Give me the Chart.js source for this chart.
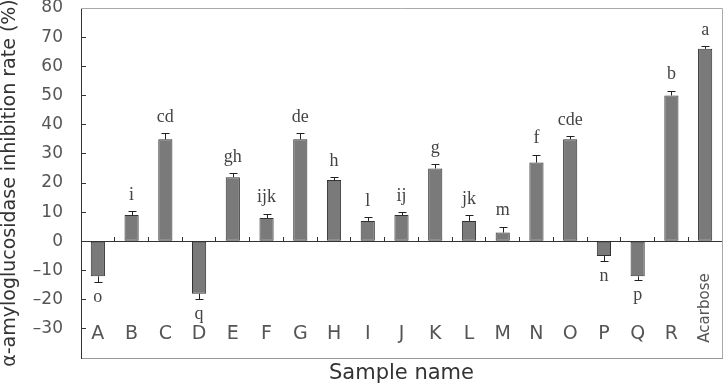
<!DOCTYPE html>
<html>
<head>
<meta charset="utf-8">
<script src="https://cdn.jsdelivr.net/npm/chart.js@4/dist/chart.umd.min.js"></script>
<style>
  html, body { margin: 0; padding: 0; background: #fff; }
  #wrap { width: 728px; height: 384px; position: relative; }
</style>
</head>
<body>
<div id="wrap"><canvas id="c"></canvas></div>
<script>
const categories = ['A','B','C','D','E','F','G','H','I','J','K','L','M','N','O','P','Q','R','Acarbose'];
const values = [-12, 9, 35, -18, 22, 8, 35, 21, 7, 9, 25, 7, 3, 27, 35, -5, -12, 50, 66];
const errors = [2, 1.3, 2, 1.7, 1.5, 1.5, 2, 1, 1.3, 1, 1.4, 2, 2, 2.7, 1, 1.7, 1.2, 1.7, 1];
const letters = ['o','i','cd','q','gh','ijk','de','h','l','ij','g','jk','m','f','cde','n','p','b','a'];
const yTicks = [-30, -20, -10, 0, 10, 20, 30, 40, 50, 60, 70, 80];

const SANS = 'DejaVu Sans';

const errorBars = {
  id: 'errorBars',
  afterDatasetsDraw(chart) {
    const ctx = chart.ctx;
    const x = chart.scales.x, y = chart.scales.y;
    ctx.save();
    ctx.strokeStyle = '#222';
    ctx.lineWidth = 1;
    values.forEach((v, i) => {
      const px = Math.round(x.getPixelForValue(i)) + 0.5;
      const end = v >= 0 ? v + errors[i] : v - errors[i];
      const p0 = y.getPixelForValue(v);
      const p1 = Math.round(y.getPixelForValue(end)) + 0.5;
      ctx.beginPath();
      ctx.moveTo(px, p0);
      ctx.lineTo(px, p1);
      ctx.moveTo(px - 4, p1);
      ctx.lineTo(px + 4, p1);
      ctx.stroke();
    });
    ctx.restore();
  }
};

const labelsPlugin = {
  id: 'sigLetters',
  afterDraw(chart) {
    const ctx = chart.ctx;
    const x = chart.scales.x, y = chart.scales.y;
    ctx.save();
    ctx.fillStyle = '#444';
    ctx.font = '18px "Liberation Serif"';
    ctx.textAlign = 'center';
    ctx.textBaseline = 'middle';
    values.forEach((v, i) => {
      const px = x.getPixelForValue(i);
      const end = v >= 0 ? v + errors[i] : v - errors[i];
      const p = y.getPixelForValue(end) + (v >= 0 ? -16 : 15);
      ctx.fillText(letters[i], px, p);
    });
    // rotated last category label
    const last = categories.length - 1;
    ctx.font = '15px "' + SANS + '"';
    ctx.fillStyle = '#555';
    ctx.translate(x.getPixelForValue(last), 308);
    ctx.rotate(-Math.PI / 2);
    ctx.fillText(categories[last], 0, 0);
    ctx.restore();
  }
};

new Chart(document.getElementById('c'), {
  type: 'bar',
  data: {
    labels: categories,
    datasets: [{
      data: values,
      backgroundColor: '#7a7a7a',
      borderColor: '#333',
      borderWidth: 1,
      borderSkipped: false,
      barPercentage: 0.42,
      categoryPercentage: 1.0,
      xAxisID: 'x',
      yAxisID: 'y'
    }]
  },
  options: {
    responsive: true,
    maintainAspectRatio: false,
    animation: false,
    events: [],
    layout: { padding: { left: 0, top: 8, right: 6, bottom: 0 } },
    plugins: { legend: { display: false }, tooltip: { enabled: false } },
    scales: {
      x: {
        type: 'category',
        position: 'bottom',
        offset: true,
        grid: { display: false, drawTicks: false },
        ticks: { display: false },
        border: { display: true, color: '#999', width: 1 },
        title: { display: true, text: 'Sample name', color: '#333', font: { family: SANS, size: 21, lineHeight: 1 }, padding: { top: 15, bottom: 0 } },
        afterFit(s) { s.height = 26; s.paddingLeft = 0; s.paddingRight = 0; }
      },
      xZero: {
        type: 'category',
        position: { y: 0 },
        offset: true,
        grid: { display: true, offset: true, drawOnChartArea: false, drawTicks: true, tickLength: -5, color: '#333' },
        ticks: { display: false },
        border: { display: true, color: '#333', width: 1 },
        afterFit(s) { s.height = 0; s.paddingLeft = 0; s.paddingRight = 0; }
      },
      xLab: {
        type: 'category',
        position: { y: -28 },
        offset: true,
        grid: { display: false, drawTicks: false },
        border: { display: false },
        ticks: {
          color: '#555',
          padding: 0,
          maxRotation: 0,
          autoSkip: false,
          font: { family: SANS, size: 19 },
          callback(v, i) { return i === categories.length - 1 ? '' : categories[i]; }
        },
        afterFit(s) { s.height = 0; s.paddingLeft = 0; s.paddingRight = 0; }
      },
      y: {
        position: 'left',
        min: -40,
        max: 80,
        afterBuildTicks(s) { s.ticks = [-40].concat(yTicks).map(v => ({ value: v })); },
        grid: { drawOnChartArea: false, tickLength: -5, color: (c) => c.tick && c.tick.value === -40 ? 'rgba(0,0,0,0)' : '#333' },
        border: { display: true, color: '#333', width: 1 },
        ticks: {
          color: '#555',
          padding: 23,
          font: { family: SANS, size: 17 },
          callback(v) { return v === -40 ? '' : String(v).replace('-', '\u2013'); }
        },
        title: { display: true, text: '\u03b1-amyloglucosidase inhibition rate (%)', color: '#333', font: { family: SANS, size: 19, lineHeight: 1 }, padding: { top: 1, bottom: 0 } },
        afterFit(s) { s.width = 81; s.paddingTop = 0; s.paddingBottom = 0; }
      }
    }
  },
  plugins: [errorBars, labelsPlugin, {
    id: 'frame',
    beforeDraw(chart) {
      const ctx = chart.ctx;
      ctx.save();
      ctx.fillStyle = '#fff';
      ctx.fillRect(0, 0, chart.width, chart.height);
      ctx.restore();
    },
    afterDraw(chart) {
      const a = chart.chartArea, ctx = chart.ctx;
      ctx.save();
      ctx.strokeStyle = '#aaa';
      ctx.lineWidth = 1;
      ctx.beginPath();
      ctx.moveTo(a.left, Math.round(a.top) + 0.5);
      ctx.lineTo(Math.round(a.right) + 0.5, Math.round(a.top) + 0.5);
      ctx.lineTo(Math.round(a.right) + 0.5, a.bottom);
      ctx.stroke();
      ctx.restore();
    }
  }]
});
</script>
</body>
</html>
